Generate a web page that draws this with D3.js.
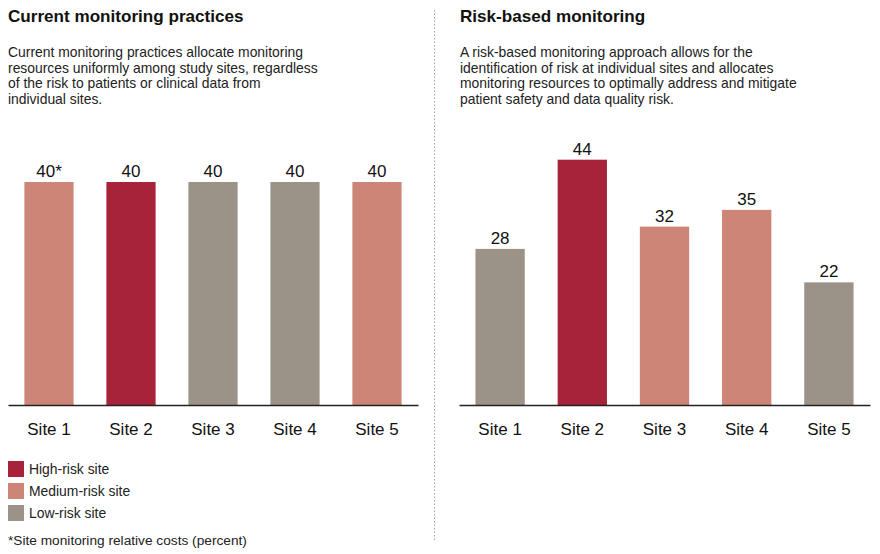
<!DOCTYPE html>
<html><head><meta charset="utf-8">
<script src="https://cdn.jsdelivr.net/npm/d3@7"></script>
<style>
html,body{margin:0;padding:0;background:#fff;}
svg{display:block;font-family:"Liberation Sans",Arial,Helvetica,sans-serif;}
</style></head>
<body><svg id="chart" width="880" height="554"></svg>
<script>
const sites = ["Site 1","Site 2","Site 3","Site 4","Site 5"];
const currentValues = [40,40,40,40,40];
const currentLabels = ["40*","40","40","40","40"];
const currentRisk = ["medium","high","low","low","medium"];
const riskValues = [28,44,32,35,22];
const riskLabels = ["28","44","32","35","22"];
const riskRisk = ["low","high","medium","medium","low"];
const riskLevels = ["high","medium","low"];
const riskNames = ["High-risk site","Medium-risk site","Low-risk site"];
const riskColors = ["#A6233A","#CD8577","#9C9388"];
const titles = ["Current monitoring practices","Risk-based monitoring"];
const descLeft = ["Current monitoring practices allocate monitoring","resources uniformly among study sites, regardless","of the risk to patients or clinical data from","individual sites."];
const descRight = ["A risk-based monitoring approach allows for the","identification of risk at individual sites and allocates","monitoring resources to optimally address and mitigate","patient safety and data quality risk."];
const footnote = "*Site monitoring relative costs (percent)";

const svg = d3.select("#chart");
const color = d3.scaleOrdinal().domain(riskLevels).range(riskColors);
const y = d3.scaleLinear().domain([0,40]).range([405,182]);

function panel(x0, x1, tx, title, desc, values, labels, risks){
  const g = svg.append("g");
  g.append("text").attr("x", tx).attr("y", 22).attr("font-size", 17.1).attr("font-weight","bold").attr("fill","#111").text(title);
  g.selectAll("text.desc").data(desc).join("text").attr("class","desc")
    .attr("x", tx).attr("y",(d,i)=>57+i*15.7).attr("font-size",13.9).attr("fill","#222").text(d=>d);
  const x = d3.scaleBand().domain(sites).range([x0, x1]).paddingInner(0.4).paddingOuter(0.2);
  const data = sites.map((s,i)=>({s, v:values[i], l:labels[i], r:risks[i]}));
  g.selectAll("rect.bar").data(data).join("rect").attr("class","bar")
    .attr("x", d=>x(d.s)).attr("width", x.bandwidth())
    .attr("y", d=>y(d.v)).attr("height", d=>y(0)-y(d.v))
    .attr("fill", d=>color(d.r));
  g.selectAll("text.val").data(data).join("text").attr("class","val")
    .attr("x", d=>x(d.s)+x.bandwidth()/2).attr("y", d=>y(d.v)-5)
    .attr("text-anchor","middle").attr("font-size",17).attr("fill","#111").text(d=>d.l);
  const ax = g.append("g").attr("transform",`translate(0,${y(0)})`)
    .call(d3.axisBottom(x).tickSize(0).tickPadding(18));
  ax.select(".domain").attr("stroke","#222").attr("stroke-width",1.6);
  ax.selectAll("text").attr("font-size",17).attr("fill","#111").attr("font-family","inherit");
}

panel(8, 418, 8, titles[0], descLeft, currentValues, currentLabels, currentRisk);
panel(459, 870, 460, titles[1], descRight, riskValues, riskLabels, riskRisk);

// divider
svg.append("line").attr("x1",434.5).attr("x2",434.5).attr("y1",10).attr("y2",542)
  .attr("stroke","#b79aa0").attr("stroke-width",1).attr("stroke-dasharray","1.5,2");

// legend
const lg = svg.append("g");
const items = riskLevels.map((r,i)=>({r, name:riskNames[i]}));
lg.selectAll("rect").data(items).join("rect")
  .attr("x",8).attr("y",(d,i)=>461+i*22).attr("width",16).attr("height",16)
  .attr("fill",d=>color(d.r));
lg.selectAll("text").data(items).join("text")
  .attr("x",29).attr("y",(d,i)=>474+i*22).attr("font-size",13.9).attr("fill","#222").text(d=>d.name);
svg.append("text").attr("x",8).attr("y",545).attr("font-size",13.7).attr("fill","#222").text(footnote);
</script></body></html>
